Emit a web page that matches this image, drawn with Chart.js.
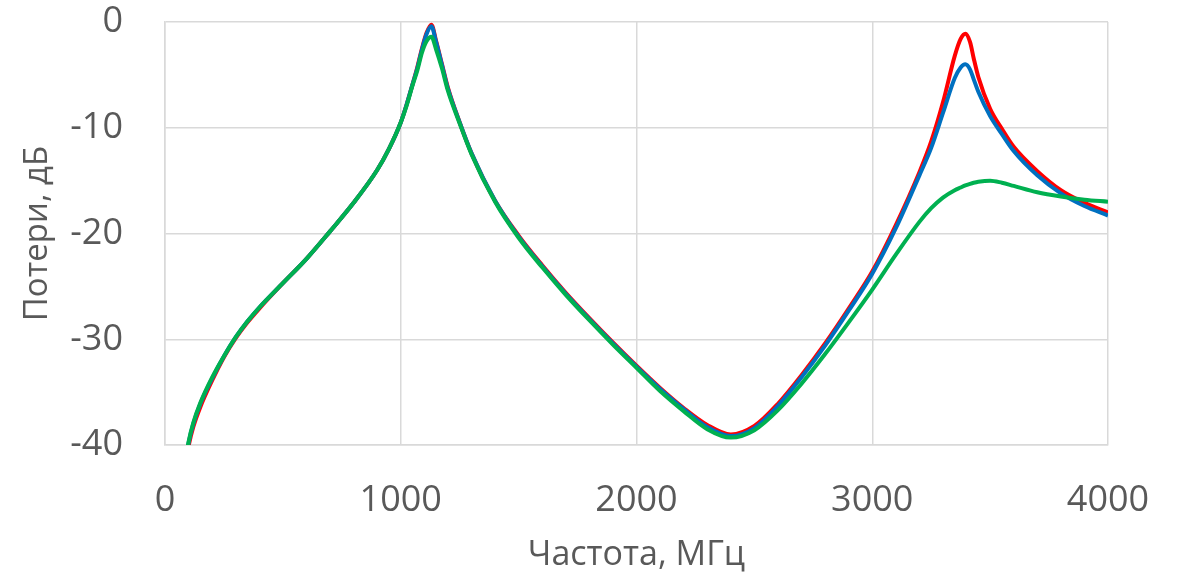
<!DOCTYPE html>
<html lang="ru">
<head>
<meta charset="utf-8">
<title>Потери</title>
<script src="https://cdn.jsdelivr.net/npm/chart.js@4"></script>
<style>
    html, body { margin: 0; padding: 0; background: #ffffff; }
    #chart { display: block; }
</style>
</head>
<body>
<canvas id="chart" width="1178" height="579"></canvas>
<script>
// Frequency points, MHz
const freq = [90, 100, 120, 150, 200, 250, 300, 350, 400, 500, 600, 700, 800, 900, 950,
    1000, 1025, 1050, 1070, 1090, 1110, 1130, 1150, 1175, 1200, 1250, 1300, 1400, 1500, 1600, 1700,
    1800, 1900, 2000, 2100, 2200, 2300, 2400, 2500, 2600, 2700, 2800, 2900, 3000, 3100,
    3200, 3250, 3300, 3350, 3375, 3395, 3415, 3430, 3450, 3500, 3550, 3600, 3700, 3800, 3900, 4000];

// Losses, dB
const lossRed = [-41.3, -40.1, -38.3, -36.4, -33.9, -31.7, -29.9, -28.4, -27.1, -24.7, -22.4, -19.8, -17.1, -14.0, -12.0,
    -9.5, -7.8, -5.9, -4.3, -2.5, -1.0, -0.25, -1.8, -4.0, -6.2, -9.5, -12.4, -16.9, -20.2, -23.0, -25.6,
    -28.0, -30.3, -32.5, -34.6, -36.5, -38.1, -39.0, -38.2, -36.1, -33.4, -30.4, -27.1, -23.6, -19.2,
    -14.2, -11.3, -7.6, -3.2, -1.6, -1.1, -1.9, -3.4, -5.2, -8.2, -10.1, -11.8, -14.1, -15.9, -17.1, -18.0];

const lossBlue = [-41.1, -39.8, -38.0, -36.1, -33.7, -31.6, -29.8, -28.3, -27.0, -24.7, -22.4, -19.8, -17.1, -14.0, -12.0,
    -9.5, -7.8, -5.9, -4.4, -2.6, -1.1, -0.4, -1.9, -4.1, -6.3, -9.5, -12.4, -16.9, -20.3, -23.1, -25.7,
    -28.1, -30.4, -32.6, -34.7, -36.6, -38.3, -39.15, -38.4, -36.3, -33.6, -30.6, -27.3, -23.8, -19.5,
    -14.5, -11.9, -8.6, -5.3, -4.3, -4.0, -4.5, -5.4, -6.6, -8.9, -10.6, -12.2, -14.5, -16.2, -17.4, -18.3];

const lossGreen = [-41.0, -39.7, -37.9, -36.0, -33.6, -31.6, -29.8, -28.3, -27.0, -24.7, -22.4, -19.8, -17.1, -14.0, -12.0,
    -9.5, -7.9, -6.0, -4.6, -2.9, -1.8, -1.4, -2.6, -4.4, -6.5, -9.6, -12.5, -17.0, -20.4, -23.2, -25.8,
    -28.2, -30.5, -32.7, -34.9, -36.8, -38.5, -39.3, -38.6, -36.7, -34.2, -31.4, -28.4, -25.3, -22.0,
    -18.9, -17.6, -16.6, -15.9, -15.65, -15.45, -15.3, -15.2, -15.1, -15.0, -15.2, -15.5, -16.1, -16.5, -16.8, -17.0];

const xTicks = [0, 1000, 2000, 3000, 4000];
const yTicks = [-40, -30, -20, -10, 0];

const textColor = '#595959';
const gridColor = '#d9d9d9';

function toPoints(values) {
    return freq.map((f, i) => ({ x: f, y: values[i] }));
}

function lineSet(label, values, color) {
    return {
        label: label,
        data: toPoints(values),
        borderColor: color,
        backgroundColor: color,
        borderWidth: 4,
        pointRadius: 0,
        cubicInterpolationMode: 'monotone',
        fill: false
    };
}

const ctx = document.getElementById('chart').getContext('2d');

new Chart(ctx, {
    type: 'line',
    data: {
        // first dataset is drawn on top
        datasets: [
            lineSet('green', lossGreen, '#00b050'),
            lineSet('blue', lossBlue, '#0070c0'),
            lineSet('red', lossRed, '#ff0000')
        ]
    },
    options: {
        responsive: false,
        animation: false,
        layout: {
            padding: { top: 22, right: 70, bottom: 0, left: 0 }
        },
        plugins: {
            legend: { display: false },
            tooltip: { enabled: false }
        },
        scales: {
            x: {
                type: 'linear',
                min: xTicks[0],
                max: xTicks[xTicks.length - 1],
                afterBuildTicks: (scale) => {
                    scale.ticks = xTicks.map(v => ({ value: v }));
                },
                afterFit: (scale) => {
                    scale.height = 134;
                    scale.paddingLeft = 0;
                    scale.paddingRight = 0;
                },
                grid: { color: gridColor, lineWidth: 1.5, drawTicks: false },
                border: { color: gridColor, width: 1.5 },
                ticks: {
                    color: textColor,
                    padding: 34,
                    maxRotation: 0,
                    callback: (value) => String(value),
                    font: { family: '"Open Sans", sans-serif', size: 36 }
                },
                title: {
                    display: true,
                    text: 'Частота, МГц',
                    color: textColor,
                    padding: { top: 0, bottom: 3 },
                    font: { family: '"Open Sans", sans-serif', size: 34 }
                }
            },
            y: {
                type: 'linear',
                min: yTicks[0],
                max: yTicks[yTicks.length - 1],
                afterBuildTicks: (scale) => {
                    scale.ticks = yTicks.map(v => ({ value: v }));
                },
                afterFit: (scale) => {
                    scale.width = 165;
                    scale.paddingTop = 0;
                    scale.paddingBottom = 0;
                },
                grid: { color: gridColor, lineWidth: 1.5, drawTicks: false },
                border: { color: gridColor, width: 1.5 },
                ticks: {
                    color: textColor,
                    padding: 42,
                    callback: (value) => String(value),
                    font: { family: '"Open Sans", sans-serif', size: 36 }
                },
                title: {
                    display: true,
                    text: 'Потери, дБ',
                    color: textColor,
                    padding: { top: 18, bottom: 0 },
                    font: { family: '"Open Sans", sans-serif', size: 33 }
                }
            }
        }
    }
});
</script>
</body>
</html>
